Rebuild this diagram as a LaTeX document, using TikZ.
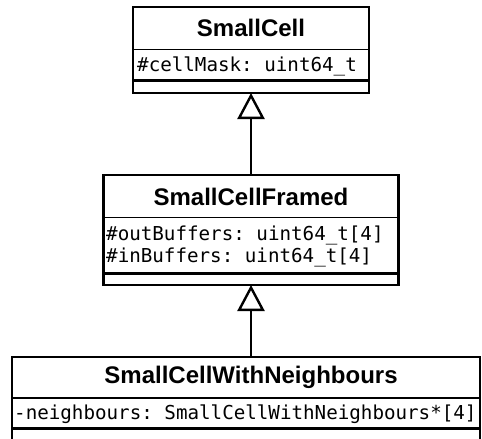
\documentclass[tikz,border=0pt]{standalone}
\usepackage{fontspec}
\newfontfamily\umltitlefont{Liberation Sans}
\newfontfamily\umlmonofont{DejaVu Sans Mono}
\usetikzlibrary{arrows.meta}
\tikzset{
  umlbox/.style={draw=black, line width=2.6pt, fill=white, inner sep=0pt, outer sep=0pt},
  umltitle/.style={inner sep=0pt, font=\umltitlefont\bfseries\fontsize{24}{28}\selectfont},
  umlattr/.style={inner sep=0pt, anchor=base west, font=\umlmonofont\frenchspacing\fontsize{19.2}{22}\selectfont},
  titlediv/.style={line width=1.8pt},
  opsdiv/.style={line width=3pt},
  inherit/.style={line width=2.6pt, -{Triangle[length=26pt,width=27pt,fill=white,line width=2.4pt]}},
}
\begin{document}
\begin{tikzpicture}[x=1pt,y=-1pt]
\useasboundingbox[fill=white] (0,0) rectangle (482,439);
% SmallCell
\node[umlbox, minimum width=236pt, minimum height=86pt] (sc) at (251,50) {};
\draw[titlediv] (133,49.5) -- (369,49.5);
\draw[opsdiv] (133,80.5) -- (369,80.5);
\node[umltitle] (sct) at (251,28) {SmallCell};
\node[umlattr] (sca) at (137,71.5) {\#cellMask: uint64\_t};
% SmallCellFramed
\node[umlbox, minimum width=295pt, minimum height=110pt] (scf) at (251,230) {};
\draw[titlediv] (103.5,217.5) -- (398.5,217.5);
\draw[opsdiv] (103.5,273) -- (398.5,273);
\node[umltitle] (scft) at (251,196.5) {SmallCellFramed};
\node[umlattr] (scfa) at (106,240) {\#outBuffers: uint64\_t[4]};
\node[umlattr] (scfb) at (106,262) {\#inBuffers: uint64\_t[4]};
% SmallCellWithNeighbours
\node[umlbox, minimum width=468pt, minimum height=88pt] (scn) at (246,401) {};
\draw[titlediv] (12,398) -- (480,398);
\draw[opsdiv] (12,428) -- (480,428);
\node[umltitle] (scnt) at (251,377.5) {SmallCellWithNeighbours};
\node[umlattr] (scna) at (14,419.5) {-neighbours: SmallCellWithNeighbours*[4]};
% inheritance
\draw[inherit] (scf.north) -- (sc.south);
\draw[inherit] (scn.north -| scf.south) -- (scf.south);
\end{tikzpicture}
\end{document}
